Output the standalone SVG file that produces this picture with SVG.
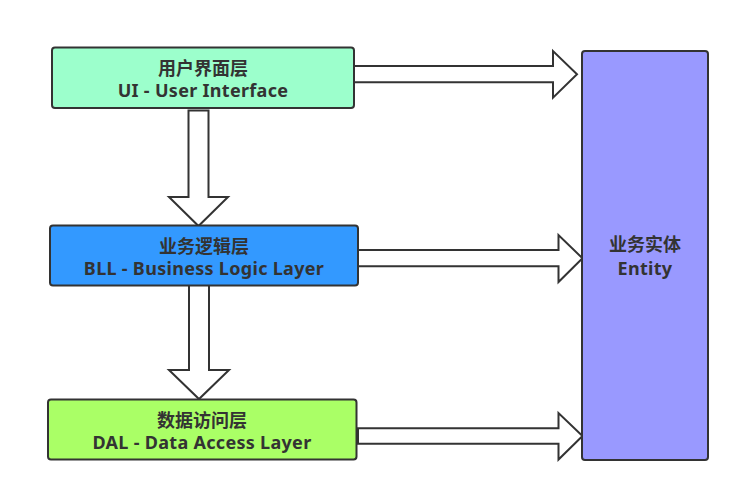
<svg xmlns="http://www.w3.org/2000/svg" width="740" height="491" viewBox="0 0 740 491">
<style>
.box{stroke:#333;stroke-width:2}
.arrow{fill:#fff;stroke:#333;stroke-width:2;stroke-linejoin:miter}
text{font-family:"Noto Sans","Noto Sans CJK SC",sans-serif;font-weight:bold;font-size:18px;fill:#333;text-anchor:middle}
.en{letter-spacing:0.3px}
</style>
<rect width="740" height="491" fill="#fff"/>
<g id="connectors">
<polygon class="arrow" points="354,66 553,66 553,51 577,74.3 553,97.7 553,82.3 354,82.3"/>
<polygon class="arrow" points="358,250 558.5,250 558.5,235 582.5,258.3 558.5,282 558.5,266.3 358,266.3"/>
<polygon class="arrow" points="358,428.3 558.5,428.3 558.5,413 582.5,436 558.5,459.5 558.5,443.7 358,443.7"/>
<polygon class="arrow" points="188.5,110.5 208.5,110.5 208.5,197 228,197 198.5,226 169,197 188.5,197"/>
<polygon class="arrow" points="189,285 209,285 209,370 229,370 199,399 169,370 189,370"/>
</g>
<g id="ui">
<rect class="box" x="52" y="47.5" width="302" height="60.5" rx="3" fill="#9CFFCC"/>
<text x="203" y="74.5">用户界面层</text>
<text class="en" x="203" y="97">UI - User Interface</text>
</g>
<g id="bll">
<rect class="box" x="50" y="225.5" width="308" height="60" rx="3" fill="#3399FF"/>
<text x="204" y="252.5">业务逻辑层</text>
<text class="en" x="204" y="274.5">BLL - Business Logic Layer</text>
</g>
<g id="dal">
<rect class="box" x="48" y="399.5" width="308.5" height="60" rx="3" fill="#AAFF66"/>
<text x="202" y="426.5">数据访问层</text>
<text class="en" x="202" y="448.5">DAL - Data Access Layer</text>
</g>
<g id="entity">
<rect class="box" x="582" y="51" width="126" height="409" rx="3" fill="#9999FF"/>
<text x="645" y="251">业务实体</text>
<text class="en" x="645" y="274.5">Entity</text>
</g>
</svg>
